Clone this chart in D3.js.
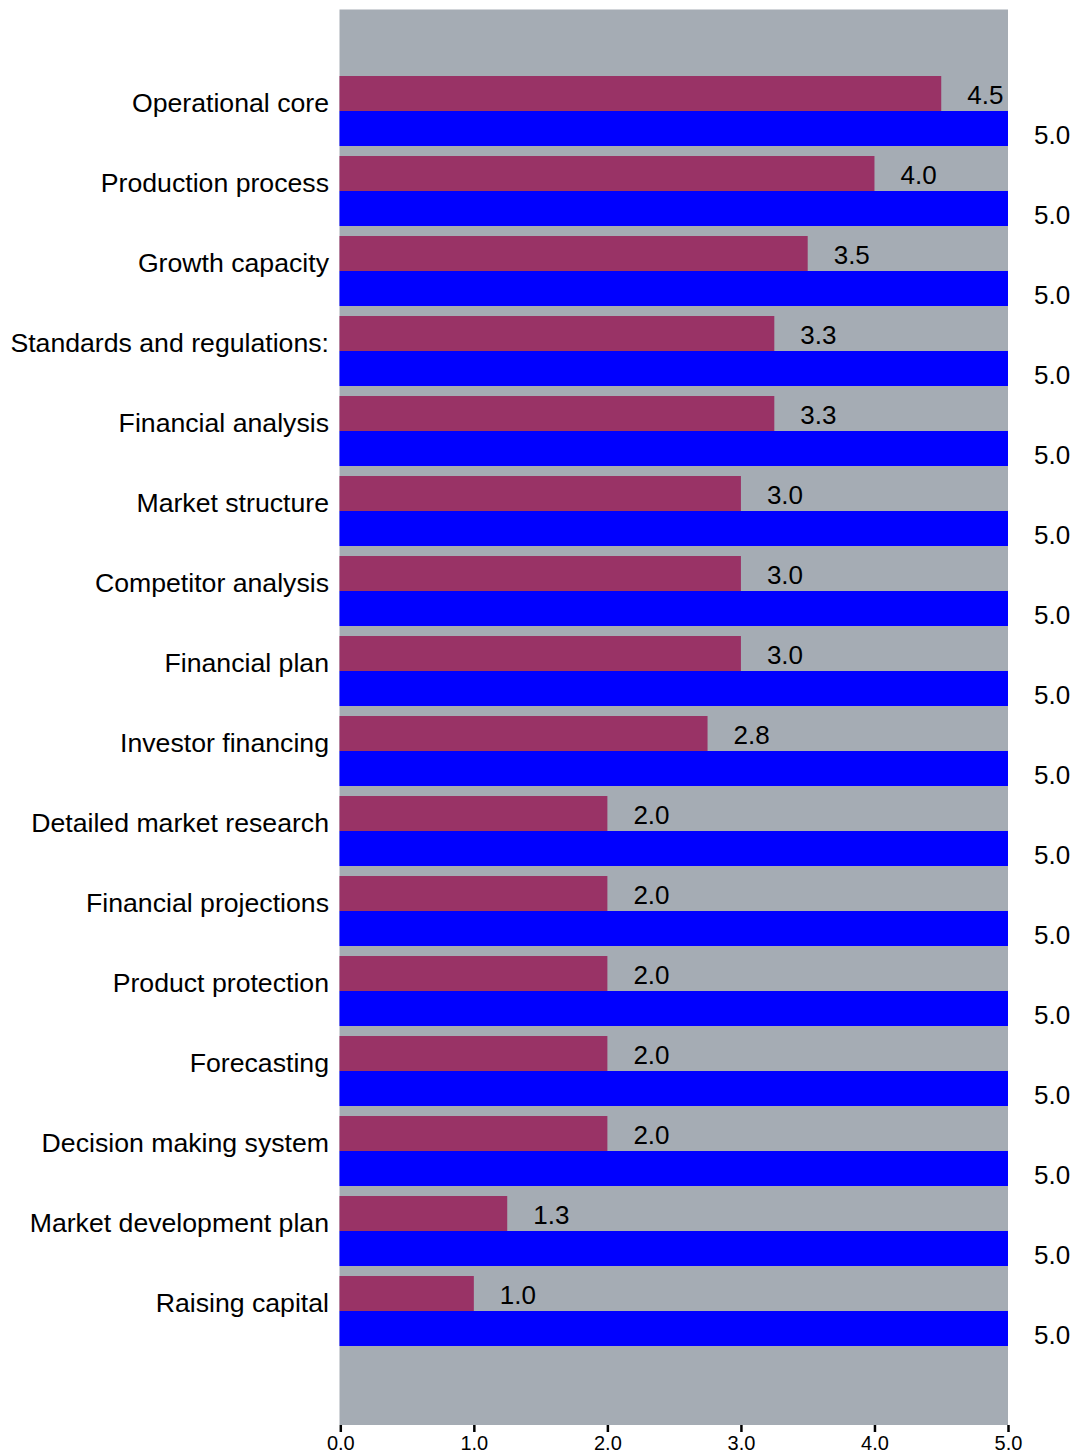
<!DOCTYPE html>
<html>
<head>
<meta charset="utf-8">
<script src="https://cdn.jsdelivr.net/npm/d3@7"></script>
<style>
html,body{margin:0;padding:0;background:#fff;}
svg{display:block;font-family:"Liberation Sans",Arial,sans-serif;}
</style>
</head>
<body>
<svg id="chart" width="1076" height="1456"></svg>
<script>
const categories = ["Operational core","Production process","Growth capacity","Standards and regulations:","Financial analysis","Market structure","Competitor analysis","Financial plan","Investor financing","Detailed market research","Financial projections","Product protection","Forecasting","Decision making system","Market development plan","Raising capital"];
const scores = [4.5,4.0,3.5,3.25,3.25,3.0,3.0,3.0,2.75,2.0,2.0,2.0,2.0,2.0,1.25,1.0];
const maxScores = [5,5,5,5,5,5,5,5,5,5,5,5,5,5,5,5];
const seriesKeys = ["score","max"];
const xTicks = [0,1,2,3,4,5];

const svg = d3.select("#chart");
const plot = {left:339.5, right:1008, top:9.5, bottom:1425};
const x = d3.scaleLinear().domain([0,5]).range([340.3, 1008]);
const y = d3.scaleBand().domain(categories).range([71,1351]).paddingInner(0.125).paddingOuter(0.0625);
const ySub = d3.scaleBand().domain(seriesKeys).range([0, y.bandwidth()]);
const color = d3.scaleOrdinal().domain(seriesKeys).range(["#993366","#0000ff"]);
const fmt = d3.format(".1f");

svg.append("rect").attr("x",plot.left).attr("y",plot.top)
  .attr("width",plot.right-plot.left).attr("height",plot.bottom-plot.top)
  .attr("fill","#a5acb4");

const rows = categories.map((c,i)=>({cat:c, values:[{key:"score",v:scores[i]},{key:"max",v:maxScores[i]}]}));

const g = svg.selectAll("g.row").data(rows).join("g").attr("class","row")
  .attr("transform",d=>`translate(0,${y(d.cat)})`);

g.selectAll("rect").data(d=>d.values).join("rect")
  .attr("x",plot.left).attr("y",d=>ySub(d.key))
  .attr("width",d=>x(d.v)-plot.left).attr("height",ySub.bandwidth())
  .attr("fill",d=>color(d.key));

g.selectAll("text.val").data(d=>d.values).join("text").attr("class","val")
  .attr("x",d=>x(d.v)+26)
  .attr("y",d=>ySub(d.key)+ySub.bandwidth()/2+(d.key==="score"?10:15))
  .attr("font-size","26px").attr("fill","#000")
  .text(d=>fmt(d.v));

g.append("text").attr("class","cat")
  .attr("x",329).attr("y",y.bandwidth()/2+1)
  .attr("text-anchor","end").attr("font-size","26.67px").attr("fill","#000")
  .text(d=>d.cat);

const axis = d3.axisBottom(x).tickValues(xTicks).tickFormat(fmt).tickSize(7).tickPadding(4);
const ax = svg.append("g").attr("transform",`translate(0,${plot.bottom})`).call(axis);
ax.select(".domain").remove();
ax.selectAll(".tick line").attr("stroke","#000").attr("stroke-width",2.5);
ax.selectAll(".tick text").attr("font-size","20px").attr("fill","#000")
  .attr("font-family","'Liberation Sans',Arial,sans-serif");
</script>
</body>
</html>
